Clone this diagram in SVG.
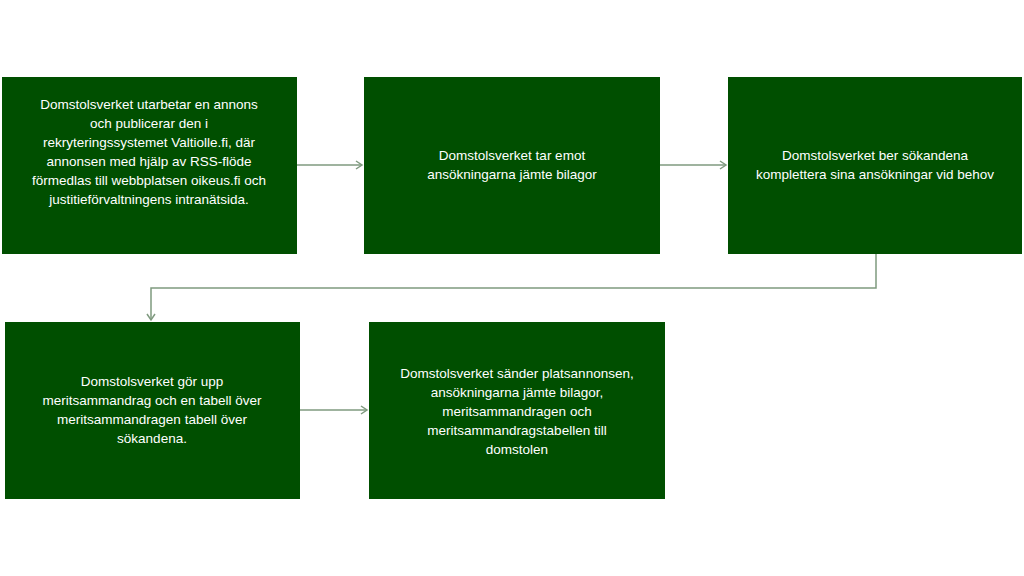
<svg xmlns="http://www.w3.org/2000/svg" width="1024" height="576" viewBox="0 0 1024 576">
<style>
.b{fill:#004f00}
.t{font-family:"Liberation Sans",Arial,sans-serif;font-size:13.5px;fill:#fff;text-anchor:middle}
.c{fill:none;stroke:#7f9a7f;stroke-width:1.5;marker-end:url(#a)}
</style>
<defs><marker id="a" markerWidth="10" markerHeight="10" refX="8" refY="5" orient="auto" markerUnits="userSpaceOnUse"><path d="M2,1 L8,5 L2,9" fill="none" stroke="#7f9a7f" stroke-width="1.5"/></marker></defs>
<rect width="1024" height="576" fill="#fff"/>
<g id="connectors">
<path class="c" d="M297,165 H362"/>
<path class="c" d="M660,165 H726"/>
<path class="c" d="M876,254 V288 H151 V320"/>
<path class="c" d="M300,410 H367"/>
</g>
<g id="n1"><rect class="b" x="2" y="77" width="295" height="177"/>
<text class="t"><tspan x="149" y="109">Domstolsverket  utarbetar en annons</tspan><tspan x="149" y="128">och publicerar den i</tspan><tspan x="149" y="147">rekryteringssystemet  Valtiolle.fi, där</tspan><tspan x="149" y="166">annonsen med hjälp av RSS-flöde</tspan><tspan x="149" y="185">förmedlas till webbplatsen oikeus.fi och</tspan><tspan x="149" y="204">justitieförvaltningens  intranätsida.</tspan></text></g>
<g id="n2"><rect class="b" x="364" y="77" width="296" height="177"/>
<text class="t"><tspan x="512" y="160">Domstolsverket tar emot</tspan><tspan x="512" y="179">ansökningarna jämte bilagor</tspan></text></g>
<g id="n3"><rect class="b" x="728" y="77" width="294" height="177"/>
<text class="t"><tspan x="875" y="160">Domstolsverket  ber sökandena</tspan><tspan x="875" y="179">komplettera sina ansökningar vid behov</tspan></text></g>
<g id="n4"><rect class="b" x="5" y="322" width="295" height="177"/>
<text class="t"><tspan x="152" y="386">Domstolsverket  gör upp</tspan><tspan x="152" y="405">meritsammandrag  och en tabell över</tspan><tspan x="152" y="424">meritsammandragen tabell över</tspan><tspan x="152" y="443">sökandena.</tspan></text></g>
<g id="n5"><rect class="b" x="369" y="322" width="296" height="177"/>
<text class="t"><tspan x="517" y="378">Domstolsverket  sänder platsannonsen,</tspan><tspan x="517" y="397">ansökningarna jämte bilagor,</tspan><tspan x="517" y="416">meritsammandragen och</tspan><tspan x="517" y="435">meritsammandragstabellen  till</tspan><tspan x="517" y="454">domstolen</tspan></text></g>
</svg>
